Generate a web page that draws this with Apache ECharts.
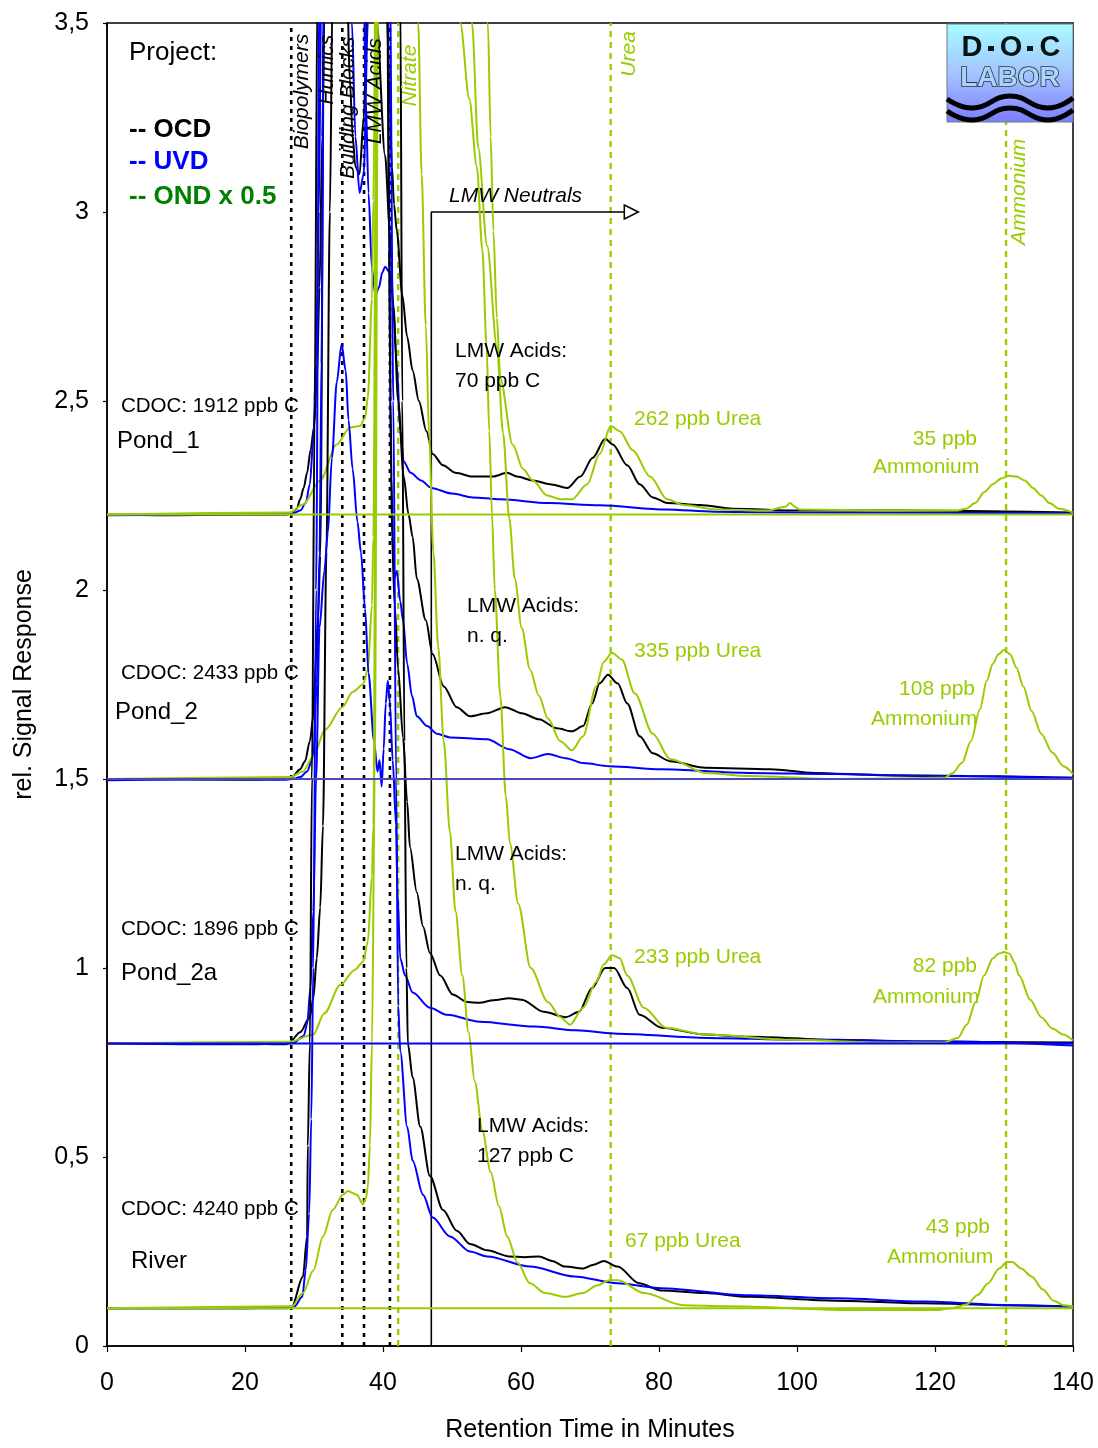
<!DOCTYPE html>
<html><head><meta charset="utf-8">
<script src="https://cdn.jsdelivr.net/npm/echarts@6/dist/echarts.min.js"></script>
<style>html,body{margin:0;padding:0;background:#fff;width:100%;height:100%;overflow:hidden}#c{width:1098px;height:1448px;position:absolute;left:0;top:0}</style>
</head><body><div id="c"></div><script>
// ---------- DATA (retention time in minutes, relative signal) ----------
const xTicks = [0, 20, 40, 60, 80, 100, 120, 140];
const yTicks = [0, 0.5, 1, 1.5, 2, 2.5, 3, 3.5];
const samples = ['Pond_1', 'Pond_2', 'Pond_2a', 'River'];
const cdoc = ['CDOC: 1912 ppb C', 'CDOC: 2433 ppb C', 'CDOC: 1896 ppb C', 'CDOC: 4240 ppb C'];
const baselines = [2.2, 1.5, 0.8, 0.1];
const fractionLines = [26.7, 34.1, 37.25, 41.0];      // Biopolymers, Humics, Building Blocks, LMW Acids
const fractionNames = ['Biopolymers', 'Humics', 'Building Blocks', 'LMW Acids'];
const nitrogenLines = [42.2, 73.0, 130.3];            // Nitrate, Urea, Ammonium
const nitrogenNames = ['Nitrate', 'Urea', 'Ammonium'];
const neutralsStart = 47;
const lmwAcids = [['LMW Acids:', '70 ppb C'], ['LMW Acids:', 'n. q.'], ['LMW Acids:', 'n. q.'], ['LMW Acids:', '127 ppb C']];
const ureaLabels = ['262 ppb Urea', '335 ppb Urea', '233 ppb Urea', '67 ppb Urea'];
const ammoniumLabels = ['35 ppb', '108 ppb', '82 ppb', '43 ppb'];

const p1_ocd = [[0,2.2],[10,2.198],[20,2.2],[26,2.2],[26.8,2.205],[27.5,2.215],[28,2.24],[28.5,2.27],[29,2.31],[29.5,2.37],[30,2.43],[30.4,2.55],[30.8,2.8],[31.2,3.2],[31.6,3.7],[33,4.3],[34.5,3.9],[35.2,3.35],[35.6,3.2],[36,3.12],[36.6,3.1],[37.2,3.25],[37.8,3.6],[39.5,3.9],[40.5,3.6],[40.9,3.35],[41.3,3.12],[41.6,3.02],[42,2.95],[42.8,2.78],[43.5,2.67],[44.3,2.58],[45.2,2.5],[46.3,2.42],[47.2,2.36],[48.7,2.33],[50.5,2.31],[53,2.30],[55.9,2.30],[58,2.31],[59.4,2.30],[61.7,2.29],[64.2,2.28],[66.7,2.27],[68.6,2.30],[70.4,2.35],[72.2,2.40],[73.3,2.385],[75.4,2.33],[77.2,2.28],[79.1,2.245],[81.2,2.23],[85.9,2.225],[90.7,2.215],[100.4,2.21],[115,2.21],[140,2.205]];
const p1_uvd = [[0,2.198],[20,2.2],[26,2.2],[27,2.203],[28,2.21],[28.8,2.23],[29.4,2.28],[29.9,2.4],[30.3,2.6],[30.7,3.0],[31.1,3.7],[33,4.6],[36,4.0],[37.2,3.6],[37.5,3.3],[37.9,3.05],[38.4,2.85],[38.9,2.78],[39.4,2.8],[39.9,2.84],[40.3,2.855],[41,2.84],[41.4,2.77],[42,2.6],[42.5,2.42],[43,2.34],[44,2.31],[45.5,2.29],[47,2.27],[50,2.255],[53,2.245],[57,2.24],[64,2.23],[71.4,2.224],[81,2.213],[88,2.207],[100,2.205],[140,2.203]];
const p1_ond = [[0,2.2],[26.5,2.205],[28.4,2.226],[30.9,2.29],[33.3,2.385],[35.2,2.43],[36.7,2.434],[37.4,2.455],[37.8,2.51],[38.4,2.77],[38.6,3.03],[39,3.8],[45,5.5],[52,4.5],[55.2,3.5],[55.6,3.2],[56,2.95],[56.5,2.72],[57,2.56],[58.8,2.384],[60.3,2.32],[61.7,2.29],[63.8,2.25],[65.7,2.24],[67.4,2.24],[69.6,2.28],[71.4,2.36],[73,2.434],[74.3,2.42],[76.2,2.37],[78.7,2.3],[81.2,2.24],[83.5,2.225],[88.4,2.213],[95.7,2.21],[98.3,2.22],[99,2.23],[99.7,2.22],[100.4,2.213],[115,2.21],[123,2.21],[124.5,2.215],[125.8,2.23],[127.2,2.26],[128.4,2.28],[129.6,2.295],[130.8,2.302],[131.8,2.3],[133,2.29],[134.2,2.27],[135.4,2.25],[136.6,2.23],[138,2.215],[140,2.205]];

const p2_ocd = [[0,1.5],[20,1.498],[26,1.5],[26.8,1.505],[28,1.526],[28.7,1.547],[29.4,1.6],[29.9,1.666],[30.1,1.77],[30.6,1.93],[30.9,2.09],[31.5,3.6],[34,4.6],[38,4.0],[39.1,3.5],[40.3,3.15],[41,2.95],[41.5,2.75],[42.2,2.5],[43,2.3],[43.7,2.2],[44.3,2.14],[44.9,2.03],[46.2,1.92],[47.2,1.83],[48.8,1.745],[50.7,1.69],[52.6,1.666],[55.1,1.674],[57.7,1.69],[60.1,1.674],[62.6,1.658],[65.2,1.634],[67.4,1.626],[69,1.64],[70.3,1.70],[71.4,1.753],[72.6,1.776],[74,1.753],[75.4,1.70],[77.2,1.613],[79.1,1.568],[81.6,1.547],[86.7,1.53],[96.1,1.526],[102.5,1.516],[112,1.51],[124.6,1.508],[140,1.503]];
const p2_uvd = [[0,1.497],[20,1.5],[26,1.498],[27,1.5],[28,1.505],[29,1.52],[29.9,1.56],[30.4,1.75],[30.8,2.1],[31.1,2.6],[31.4,3.6],[33,4.5],[35,3.9],[35.5,3.5],[36,3.2],[36.6,3.05],[37.2,3.1],[37.8,3.5],[38.3,3.9],[40,4.0],[40.6,3.6],[41.2,2.3],[41.6,2.03],[42,2.05],[42.5,1.97],[42.9,1.92],[43.5,1.805],[44.2,1.72],[44.9,1.666],[46.4,1.64],[47.8,1.62],[49.7,1.61],[55.1,1.605],[58.3,1.579],[61.4,1.555],[63.9,1.566],[66.5,1.555],[69,1.542],[72.8,1.534],[80.3,1.526],[93,1.516],[105.7,1.513],[118.3,1.508],[140,1.503]];
const p2_ond = [[0,1.5],[26.5,1.505],[28.4,1.52],[29.9,1.56],[31.6,1.63],[34.1,1.69],[35.6,1.73],[37.1,1.75],[37.8,1.79],[38.4,1.96],[38.6,2.14],[39.1,3.7],[45,5.5],[50,4.5],[52.9,3.5],[53.8,3.17],[55.1,2.91],[56.5,2.645],[57.4,2.415],[58.3,2.19],[59.1,2.03],[60.1,1.9],[61.3,1.79],[62.6,1.72],[63.9,1.66],[65.7,1.6],[67.4,1.576],[69,1.613],[70.9,1.745],[72,1.81],[73.2,1.834],[74.6,1.816],[76.5,1.726],[79.1,1.62],[81.6,1.553],[86.7,1.516],[93,1.508],[105.7,1.5],[121.4,1.503],[122.5,1.515],[123.9,1.542],[125.2,1.6],[126.5,1.684],[127.5,1.76],[128.4,1.805],[129.2,1.83],[130,1.842],[130.9,1.83],[131.8,1.795],[132.8,1.745],[134,1.68],[135.4,1.62],[137,1.57],[138.6,1.534],[140,1.513]];

const p2a_ocd = [[0,0.8],[20,0.8],[26,0.798],[26.5,0.805],[28,0.83],[29.4,0.87],[29.9,0.92],[30.4,1.026],[30.9,1.16],[31.3,1.376],[31.8,2.1],[32.3,3.0],[32.7,3.6],[35,4.5],[40,4.0],[40.6,3.6],[40.9,2.9],[41.1,2.5],[41.3,2.14],[41.7,1.96],[42.2,1.79],[42.9,1.61],[43.5,1.44],[43.9,1.32],[44.9,1.2],[45.8,1.11],[46.8,1.04],[48.3,0.98],[50.1,0.93],[52.2,0.91],[54,0.908],[56,0.915],[58.3,0.92],[60.1,0.916],[63.3,0.884],[66.5,0.87],[68.4,0.884],[70.3,0.947],[72.2,1.0],[73.5,1.0],[75.4,0.947],[77.2,0.876],[80.4,0.842],[86.7,0.824],[93,0.818],[105.7,0.81],[118.3,0.805],[140,0.803]];
const p2a_uvd = [[0,0.8],[20,0.798],[26,0.8],[27,0.802],[28.5,0.82],[29,0.85],[29.5,0.95],[29.9,1.15],[30.3,1.5],[30.8,1.9],[31.5,2.05],[32,2.15],[32.6,2.35],[33.3,2.55],[34.0,2.65],[34.6,2.58],[35,2.45],[35.6,2.32],[36.3,2.18],[36.8,2.1],[37.4,1.95],[37.9,1.78],[38.7,1.6],[39.2,1.52],[39.5,1.55],[39.8,1.48],[40.1,1.58],[40.4,1.7],[40.7,1.76],[41,1.7],[41.4,1.55],[41.9,1.376],[42.1,1.2],[42.5,1.026],[43.2,0.98],[44.3,0.935],[46.8,0.895],[49.3,0.876],[54,0.858],[62,0.845],[68,0.835],[74,0.826],[87,0.815],[100,0.81],[120,0.806],[140,0.795]];
const p2a_ond = [[0,0.8],[26.5,0.805],[29.9,0.824],[31.5,0.88],[33.8,0.955],[35.9,0.995],[37.1,1.016],[37.8,1.07],[38.4,1.245],[38.6,1.376],[39.2,3.7],[45,5.5],[49,4.5],[51.2,3.5],[52.5,3.3],[53.6,3.12],[54.4,2.9],[55,2.65],[55.4,2.42],[55.8,2.2],[56.2,2.0],[57,1.72],[57.8,1.455],[58.4,1.33],[59.6,1.17],[61.4,1.0],[63.9,0.91],[65.7,0.87],[67.1,0.85],[69,0.895],[70.9,0.963],[72,1.01],[73.2,1.034],[74.3,1.026],[75.4,0.98],[77.8,0.895],[81,0.842],[86.7,0.824],[99.3,0.81],[112,0.803],[121.4,0.803],[123.3,0.815],[124.6,0.85],[125.9,0.91],[127.1,0.98],[128.4,1.026],[129.2,1.038],[130,1.042],[130.8,1.038],[131.5,1.015],[132.2,0.98],[133.8,0.916],[135.4,0.87],[137,0.84],[138.6,0.824],[140,0.808]];

const rv_ocd = [[0,0.1],[20,0.1],[26,0.102],[26.8,0.105],[28.4,0.184],[29,0.29],[29.1,0.53],[29.4,0.8],[29.7,1.5],[30.1,2.5],[30.5,3.6],[35,5],[42,4.0],[42.5,3.6],[42.8,2.5],[43.1,1.6],[43.4,1.0],[43.6,0.8],[44.3,0.71],[45.4,0.58],[46.8,0.45],[48.7,0.36],[50.7,0.305],[52.6,0.27],[55.1,0.253],[58.3,0.237],[60.5,0.235],[62.6,0.237],[64.5,0.225],[66.4,0.21],[69,0.205],[70.5,0.215],[72,0.225],[74,0.21],[77.1,0.166],[80.3,0.147],[86.7,0.14],[92.9,0.13],[105.7,0.12],[118.3,0.113],[130.9,0.108],[140,0.105]];
const rv_uvd = [[0,0.1],[20,0.1],[26,0.1],[27.2,0.105],[28.3,0.13],[28.8,0.2],[29.3,0.35],[29.6,0.6],[29.9,1.0],[30.3,2.0],[30.8,3.6],[35,5],[40,4.5],[41,3.6],[41.5,2.5],[41.9,1.5],[42.2,0.9],[42.5,0.78],[43.5,0.58],[44.3,0.49],[45.8,0.4],[47.2,0.34],[49.7,0.29],[52.6,0.25],[55.1,0.237],[61.3,0.21],[67.7,0.184],[74,0.166],[80.3,0.153],[92.9,0.134],[105.7,0.126],[118.3,0.118],[130.9,0.108],[140,0.103]];
const rv_ond = [[0,0.1],[26.8,0.105],[28.4,0.14],[29.9,0.2],[31.3,0.29],[32.7,0.36],[34.2,0.40],[34.9,0.41],[36.2,0.40],[37.1,0.375],[37.5,0.39],[37.8,0.42],[38.1,0.53],[38.4,0.8],[38.8,1.5],[39.3,3.6],[42,5.5],[44.7,3.9],[45.1,3.5],[45.6,3.1],[46.2,2.7],[46.7,2.4],[47.3,2.1],[48,1.85],[48.8,1.6],[49.7,1.36],[50.5,1.15],[51.5,0.98],[52.4,0.83],[53.3,0.7],[54.4,0.57],[55.6,0.46],[56.8,0.37],[58,0.29],[59.5,0.22],[61.3,0.166],[63.5,0.14],[66.4,0.13],[69,0.14],[71,0.16],[72.8,0.174],[74.1,0.174],[77.8,0.14],[83.5,0.108],[89.9,0.105],[108.7,0.095],[120,0.095],[122.5,0.1],[124.6,0.11],[126.2,0.135],[127.7,0.166],[129.3,0.205],[130.4,0.222],[131.2,0.222],[132.5,0.205],[134,0.184],[135.6,0.15],[137.2,0.12],[138.6,0.108],[140,0.105]];

// ---------- STYLE ----------
const FONT = '"Liberation Sans", Arial, sans-serif';
const C_OCD = '#000000', C_UVD = '#0000ff', C_OND = '#99cc00', C_LEG_OND = '#008000';
const baseColors = ['#99cc00', '#4848b8', '#0000ff', '#99cc00'];

const chart = echarts.init(document.getElementById('c'), null, {renderer: 'canvas', width: 1098, height: 1448});

const curveSets = [
  [p1_ocd, p1_uvd, p1_ond], [p2_ocd, p2_uvd, p2_ond],
  [p2a_ocd, p2a_uvd, p2a_ond], [rv_ocd, rv_uvd, rv_ond]
];
const curveColors = [C_OCD, C_UVD, C_OND];

const series = [];
function lineSeries(data, color, width, type, z, smooth) {
  return {type: 'line', data: data, showSymbol: false, symbol: 'none', silent: true,
    clip: true, animation: false, z: z || 2,
    smooth: smooth || false, smoothMonotone: smooth ? 'x' : undefined,
    lineStyle: {color: color, width: width, type: type || 'solid'}};
}
// fraction marker lines
fractionLines.forEach(x => series.push(lineSeries([[x, 0], [x, 3.5]], '#000', 2.6, [4, 5], 1)));
nitrogenLines.forEach(x => series.push(lineSeries([[x, 0], [x, 3.5]], C_OND, 2.4, [6, 5], 1)));
// LMW neutrals bracket
series.push(lineSeries([[neutralsStart, 0], [neutralsStart, 3.0], [77, 3.0]], '#000', 1.6, 'solid', 1));
// chromatograms
curveSets.forEach(set => set.forEach((d, i) => series.push(lineSeries(d, curveColors[i], 2, 'solid', 3, 0.3))));
// baselines
baselines.forEach((b, i) => series.push(lineSeries([[0, b], [140, b]], baseColors[i], 2, 'solid', 4)));

const option = {
  animation: false,
  backgroundColor: '#ffffff',
  grid: {left: 107, right: 25, top: 23, bottom: 95, show: true, borderColor: '#000', borderWidth: 1.5, backgroundColor: 'rgba(0,0,0,0)'},
  xAxis: {
    type: 'value', min: xTicks[0], max: xTicks[xTicks.length - 1], interval: 20,
    axisLine: {show: true, onZero: false, lineStyle: {color: '#000', width: 1.5}},
    axisTick: {show: true, length: 6, lineStyle: {color: '#000', width: 1.2}},
    axisLabel: {fontSize: 25, color: '#000', margin: 25, fontFamily: FONT},
    splitLine: {show: false},
    name: 'Retention Time in Minutes', nameLocation: 'middle', nameGap: 72,
    nameTextStyle: {fontSize: 25, color: '#000', fontFamily: FONT}
  },
  yAxis: {
    type: 'value', min: yTicks[0], max: yTicks[yTicks.length - 1], interval: 0.5,
    axisLine: {show: true, onZero: false, lineStyle: {color: '#000', width: 1.5}},
    axisTick: {show: true, length: 4, lineStyle: {color: '#000', width: 1.2}},
    axisLabel: {fontSize: 25, color: '#000', margin: 18, fontFamily: FONT,
      formatter: v => String(v).replace('.', ',')},
    splitLine: {show: false},
    name: 'rel. Signal Response', nameLocation: 'middle', nameGap: 70, nameRotate: 90,
    nameTextStyle: {fontSize: 25, color: '#000', fontFamily: FONT}
  },
  series: series
};
chart.setOption(option);

// ---------- ANNOTATIONS (placed in data coordinates) ----------
function P(x, y) { return chart.convertToPixel({xAxisIndex: 0, yAxisIndex: 0}, [x, y]); }
function txt(text, x, y, o) {
  o = o || {};
  const p = P(x, y);
  const font = (o.style || 'normal') + ' ' + (o.weight || 'normal') + ' ' + (o.size || 20) + 'px ' + FONT;
  return {type: 'text', x: p[0], y: p[1], rotation: o.rot || 0, z: 100, silent: true,
    style: {text: text, font: font, fill: o.color || '#000',
      textAlign: o.align || 'left', align: o.align || 'left',
      textVerticalAlign: 'middle', verticalAlign: 'middle'}};
}
const g = [];
g.push(txt('Project:', 3.19, 3.421, {size: 26}));
g.push(txt('-- OCD', 3.19, 3.218, {size: 26, weight: 'bold', color: C_OCD}));
g.push(txt('-- UVD', 3.19, 3.132, {size: 26, weight: 'bold', color: C_UVD}));
g.push(txt('-- OND x 0.5', 3.19, 3.039, {size: 26, weight: 'bold', color: C_LEG_OND}));

const cdocPos = [[2.03, 2.487], [2.03, 1.779], [2.03, 1.103], [2.03, 0.361]];
const namePos = [[1.45, 2.392], [1.16, 1.676], [2.03, 0.987], [3.48, 0.224]];
const acidPos = [[50.43, 2.632], [52.17, 1.958], [50.43, 1.30], [53.62, 0.582]];
const ureaPos = [[76.38, 2.453], [76.38, 1.837], [76.38, 1.029], [75.07, 0.276]];
const ammPos = [[126.09, 2.40], [125.8, 1.737], [126.09, 1.005], [127.97, 0.313]];
const ammNamePos = [[111.01, 2.324], [110.72, 1.658], [111.01, 0.924], [113.04, 0.234]];
samples.forEach((s, i) => {
  g.push(txt(cdoc[i], cdocPos[i][0], cdocPos[i][1], {size: 20.5}));
  g.push(txt(s, namePos[i][0], namePos[i][1], {size: 24}));
  g.push(txt(lmwAcids[i][0], acidPos[i][0], acidPos[i][1], {size: 21}));
  g.push(txt(lmwAcids[i][1], acidPos[i][0], acidPos[i][1] - 0.079, {size: 21}));
  g.push(txt(ureaLabels[i], ureaPos[i][0], ureaPos[i][1], {size: 21, color: C_OND}));
  g.push(txt(ammoniumLabels[i], ammPos[i][0], ammPos[i][1], {size: 21, color: C_OND, align: 'right'}));
  g.push(txt('Ammonium', ammNamePos[i][0], ammNamePos[i][1], {size: 21, color: C_OND}));
});
g.push(txt('LMW Neutrals', 49.57, 3.042, {size: 21, style: 'italic'}));

// rotated fraction labels
const fracLabelPos = [[28.26, 3.166], [31.88, 3.284], [34.93, 3.087], [38.84, 3.179]];
fractionNames.forEach((n, i) => g.push(txt(n, fracLabelPos[i][0], fracLabelPos[i][1], {size: 21, style: 'italic', rot: Math.PI / 2})));
const nLabelPos = [[43.91, 3.279], [75.65, 3.358], [132.17, 2.913]];
nitrogenNames.forEach((n, i) => g.push(txt(n, nLabelPos[i][0], nLabelPos[i][1], {size: 21, style: 'italic', rot: Math.PI / 2, color: C_OND})));

// open arrow head at end of LMW Neutrals bracket
const tip = P(77, 3.0);
g.push({type: 'polygon', z: 100, silent: true,
  shape: {points: [[tip[0], tip[1]], [tip[0] - 14, tip[1] - 7], [tip[0] - 14, tip[1] + 7]]},
  style: {fill: '#fff', stroke: '#000', lineWidth: 1.5}});

// DOC-LABOR logo (top right corner of plot)
const lt = P(140, 3.5);
const L = lt[0] - 126, T = lt[1] + 1;
g.push({type: 'rect', z: 110, silent: true, shape: {x: L, y: T, width: 126, height: 98},
  style: {fill: new echarts.graphic.LinearGradient(0, 0, 0, 1, [
    {offset: 0, color: '#a8fcff'}, {offset: 0.5, color: '#a4c4ff'}, {offset: 1, color: '#7c7cff'}]),
    stroke: '#6a7a8a', lineWidth: 1}});
['D', 'O', 'C'].forEach((ch, i) => g.push({type: 'text', z: 111, silent: true, x: L + 25 + i * 39, y: T + 24,
  style: {text: ch, font: 'bold 29px ' + FONT, fill: '#071414', textAlign: 'center', align: 'center', textVerticalAlign: 'middle', verticalAlign: 'middle'}}));
[0, 1].forEach(i => g.push({type: 'rect', z: 111, silent: true, shape: {x: L + 41 + i * 39, y: T + 22, width: 6, height: 5}, style: {fill: '#071414'}}));
g.push({type: 'text', z: 111, silent: true, x: L + 63, y: T + 54,
  style: {text: 'LABOR', font: 'bold 28px ' + FONT, fill: '#a9d4f4', stroke: '#2a3050', lineWidth: 1.6,
    textAlign: 'center', align: 'center', textVerticalAlign: 'middle', verticalAlign: 'middle'}});
[0, 12].forEach(dy => g.push({type: 'polyline', z: 111, silent: true,
  shape: {points: [[L, T + 75 + dy], [L + 26, T + 84 + dy], [L + 63, T + 72 + dy], [L + 100, T + 84 + dy], [L + 126, T + 74 + dy]], smooth: 0.5},
  style: {stroke: '#000', lineWidth: 5, fill: null}}));

chart.setOption({graphic: {elements: g}});
</script></body></html>
